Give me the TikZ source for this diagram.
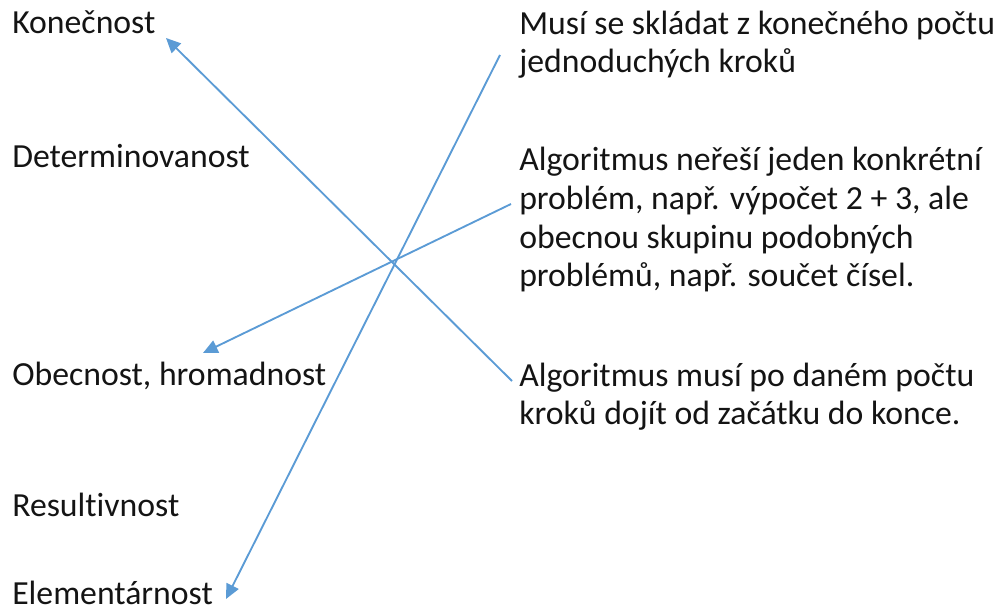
\documentclass[tikz,border=0pt]{standalone}
\usepackage{fontspec}
\setmainfont{Carlito}[Ligatures={NoCommon}]
\usetikzlibrary{arrows.meta}
\definecolor{linkblue}{RGB}{91,155,213}
\definecolor{txt}{RGB}{20,20,20}
\begin{document}
\begin{tikzpicture}[x=0.75pt,y=-0.75pt,
  lbl/.style={anchor=base west,inner sep=0pt,text=txt,font=\fontsize{25.3}{29.2}\selectfont},
  desc/.style={lbl,align=left},
  link/.style={draw=linkblue,line width=1.4pt,-{Triangle[length=11pt,width=10pt]}}]
\useasboundingbox (0,0) rectangle (1000,609);
% property names
\node[lbl] (kon) at (12,34) {Konečnost};
\node[lbl] (det) at (12,168) {Determinovanost};
\node[lbl] (obe) at (12,386) {Obecnost, hromadnost};
\node[lbl] (res) at (12,517) {Resultivnost};
\node[lbl] (ele) at (12,604) {Elementárnost};
% descriptions (anchored at the baseline of their last line)
\node[desc] (d1) at (519,73) {Musí se skládat z konečného počtu\\jednoduchých kroků};
\node[desc] (d2) at (519,287) {Algoritmus neřeší jeden konkrétní\\problém, např. výpočet 2 + 3, ale\\obecnou skupinu podobných\\problémů, např. součet čísel.};
\node[desc] (d3) at (519,425) {Algoritmus musí po daném počtu\\kroků dojít od začátku do konce.};
% connector end points
\coordinate (s1) at (500,55);
\coordinate (s2) at (511,204);
\coordinate (s3) at (512,381);
\coordinate (t1) at (166,38);
\coordinate (t2) at (203,353);
\coordinate (t3) at (226,599);
\draw[link] (s3) -- (t1);
\draw[link] (s2) -- (t2);
\draw[link] (s1) -- (t3);
\end{tikzpicture}
\end{document}
